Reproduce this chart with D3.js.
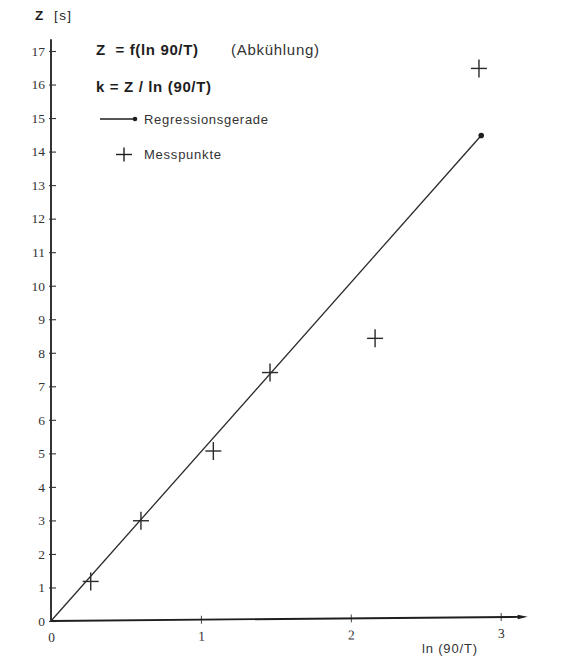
<!DOCTYPE html>
<html><head><meta charset="utf-8">
<script src="https://cdn.jsdelivr.net/npm/d3@7"></script>
<style>
html,body{margin:0;padding:0;background:#fff;}
svg{display:block;}
</style></head>
<body>
<svg id="chart" width="580" height="656"></svg>
<script>
// ---- data ----
const xValues = [0.265, 0.600, 1.083, 1.461, 2.162, 2.855];   // ln(90/T)
const zValues = [1.18, 2.99, 5.07, 7.41, 8.43, 16.48];         // Z [s]
const regStart = [0, 0];
const regEnd = [2.87, 14.48];
const yTicks = d3.range(0, 18);
const xTicks = [0, 1, 2, 3];
const title1 = "Z  = f(ln 90/T)";
const title1b = "(Abkühlung)";
const title2 = "k = Z / ln (90/T)";
const legendLine = "Regressionsgerade";
const legendPoint = "Messpunkte";
const yLabel = ["Z", "[s]"];
const xLabel = "ln (90/T)";

// ---- drawing ----
const svg = d3.select("#chart");
const ink = "#1e1e1e";
const sans = "'Liberation Sans', Arial, sans-serif";
const serif = "'Liberation Serif', 'Times New Roman', serif";

const x = d3.scaleLinear().domain([0, 3]).range([51, 500.7]);
const y = d3.scaleLinear().domain([0, 17]).range([621, 51]);

// y axis
const gy = svg.append("g").attr("transform", `translate(${x(0)},0)`);
gy.call(d3.axisLeft(y).tickValues(yTicks).tickSize(-5).tickPadding(6).tickFormat(d3.format("d")));
gy.select(".domain").remove();
gy.selectAll(".tick line").attr("x1", -2).attr("stroke", "#333").attr("stroke-width", 1.1);
gy.selectAll(".tick text").attr("font-family", serif).attr("font-size", 13.5).attr("fill", "#333");
gy.append("line").attr("x1", 0).attr("x2", 0).attr("y1", y(0)).attr("y2", y(17.35))
  .attr("stroke", "#333").attr("stroke-width", 2);

// x axis (slightly tilted like the scan)
const gx = svg.append("g").attr("transform", `translate(0,${y(0)}) rotate(-0.5 ${x(0)} 0)`);
gx.call(d3.axisBottom(x).tickValues(xTicks).tickSize(4).tickFormat(d3.format("d")));
gx.select(".domain").remove();
gx.selectAll(".tick line").attr("y1", -4).attr("y2", 4).attr("stroke", "#444")
  .filter(d => d === 0).remove();
gx.selectAll(".tick text").attr("font-family", serif).attr("font-size", 13.5).attr("fill", "#333")
  .attr("y", 21).attr("dy", 0);
gx.append("line").attr("x1", x(0)).attr("x2", x(3.15)).attr("y1", 0).attr("y2", 0)
  .attr("stroke", ink).attr("stroke-width", 1.8);
gx.append("path").attr("d", `M${x(3.18)},0 L${x(3.18) - 10},-2.2 L${x(3.18) - 10},2.2 Z`).attr("fill", ink);

// x label
svg.append("text").attr("x", 422).attr("y", 653).attr("font-family", sans).attr("font-size", 13)
  .attr("fill", "#333").attr("textLength", 55).text(xLabel);

// y label
svg.append("text").attr("x", 35).attr("y", 20).attr("font-family", sans).attr("font-size", 13.5)
  .attr("font-weight", "bold").attr("fill", ink).text(yLabel[0]);
svg.append("text").attr("x", 54).attr("y", 20).attr("font-family", sans).attr("font-size", 13.5)
  .attr("fill", ink).attr("textLength", 17).text(yLabel[1]);

// regression line
svg.append("line").attr("x1", x(regStart[0])).attr("y1", y(regStart[1]))
  .attr("x2", x(regEnd[0])).attr("y2", y(regEnd[1])).attr("stroke", "#2a2a2a").attr("stroke-width", 1.3);
svg.append("circle").attr("cx", x(regEnd[0])).attr("cy", y(regEnd[1])).attr("r", 2.8).attr("fill", ink);

// measured points
const pts = d3.zip(xValues, zValues);
const cross = svg.append("g").selectAll("g").data(pts).join("g")
  .attr("transform", d => `translate(${x(d[0])},${y(d[1])})`);
cross.append("line").attr("x1", -8).attr("x2", 8).attr("y1", 0).attr("y2", 0).attr("stroke", "#2a2a2a").attr("stroke-width", 1.4);
cross.append("line").attr("x1", 0).attr("x2", 0).attr("y1", -9).attr("y2", 9).attr("stroke", "#2a2a2a").attr("stroke-width", 1.4);

// titles / legend
svg.append("text").attr("x", 96).attr("y", 55).attr("font-family", sans).attr("font-size", 15)
  .attr("font-weight", "bold").attr("fill", ink).attr("textLength", 102).attr("xml:space", "preserve").text(title1);
svg.append("text").attr("x", 231).attr("y", 55).attr("font-family", sans).attr("font-size", 15)
  .attr("fill", "#333").attr("textLength", 88).text(title1b);
svg.append("text").attr("x", 96).attr("y", 91.5).attr("font-family", sans).attr("font-size", 15)
  .attr("font-weight", "bold").attr("fill", ink).attr("textLength", 115).text(title2);

svg.append("line").attr("x1", 100).attr("x2", 135).attr("y1", 119).attr("y2", 119).attr("stroke", ink).attr("stroke-width", 1.3);
svg.append("circle").attr("cx", 135).attr("cy", 119).attr("r", 2.3).attr("fill", ink);
svg.append("text").attr("x", 144).attr("y", 124).attr("font-family", sans).attr("font-size", 13)
  .attr("fill", "#333").attr("textLength", 124).text(legendLine);

const lp = svg.append("g").attr("transform", "translate(124,154.5)");
lp.append("line").attr("x1", -8).attr("x2", 8).attr("stroke", ink).attr("stroke-width", 1.4);
lp.append("line").attr("y1", -7).attr("y2", 7).attr("stroke", ink).attr("stroke-width", 1.4);
svg.append("text").attr("x", 144).attr("y", 159).attr("font-family", sans).attr("font-size", 13)
  .attr("fill", "#333").attr("textLength", 77).text(legendPoint);
</script>
</body></html>
